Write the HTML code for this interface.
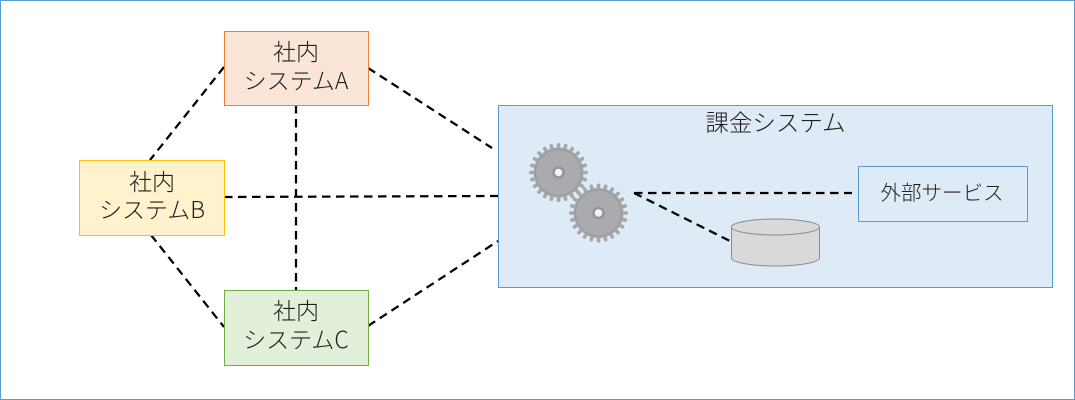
<!DOCTYPE html>
<html>
<head>
<meta charset="utf-8">
<style>
html,body{margin:0;padding:0;background:#fff;width:1075px;height:400px;overflow:hidden}
svg{display:block}
text{font-family:"Noto Sans CJK JP","Liberation Sans",sans-serif;font-weight:300;fill:#1f1f1f;text-anchor:middle}
.d{stroke:#000;stroke-width:2.25;stroke-dasharray:8.5 5.5;fill:none}
.t line{stroke:#a5a7aa;stroke-width:3.6;stroke-linecap:round}
</style>
</head>
<body>
<svg width="1075" height="400" viewBox="0 0 1075 400" xmlns="http://www.w3.org/2000/svg">
<defs>
<g id="gear">
<g class="t">
<line y1="-27.7" y2="27.7"/>
<line y1="-27.7" y2="27.7" transform="rotate(15)"/>
<line y1="-27.7" y2="27.7" transform="rotate(30)"/>
<line y1="-27.7" y2="27.7" transform="rotate(45)"/>
<line y1="-27.7" y2="27.7" transform="rotate(60)"/>
<line y1="-27.7" y2="27.7" transform="rotate(75)"/>
<line y1="-27.7" y2="27.7" transform="rotate(90)"/>
<line y1="-27.7" y2="27.7" transform="rotate(105)"/>
<line y1="-27.7" y2="27.7" transform="rotate(120)"/>
<line y1="-27.7" y2="27.7" transform="rotate(135)"/>
<line y1="-27.7" y2="27.7" transform="rotate(150)"/>
<line y1="-27.7" y2="27.7" transform="rotate(165)"/>
</g>
<circle r="25" fill="#a5a7aa"/>
<circle r="23" fill="#a9abae" stroke="#96989b" stroke-width="1"/>
<circle r="5" fill="#f2f4f6" stroke="#93959a" stroke-width="2.5"/>
</g>
</defs>
<rect x="0.5" y="0.5" width="1074" height="399" fill="#fff" stroke="#5b9bd5"/>

<rect x="498.5" y="105.5" width="554" height="182" fill="#deeaf6" stroke="#5b9bd5"/>

<line class="d" x1="296" y1="105" x2="296" y2="290"/>
<line class="d" x1="224" y1="197" x2="498" y2="196"/>
<line class="d" x1="224" y1="67" x2="150" y2="160"/>
<line class="d" x1="151" y1="235" x2="224" y2="327"/>
<line class="d" x1="368" y1="68" x2="492" y2="148"/>
<line class="d" x1="368" y1="326" x2="498" y2="241"/>

<rect x="224.5" y="31.5" width="144" height="74" fill="#fbe5d6" stroke="#ed7d31"/>
<rect x="79.5" y="160.5" width="145" height="75" fill="#fff2cc" stroke="#ffc000"/>
<rect x="224.5" y="290.5" width="144" height="75" fill="#e2efd9" stroke="#70ad47"/>

<text x="296" y="60" font-size="23">社内</text>
<text x="296" y="89" font-size="23">システムA</text>
<text x="152" y="190" font-size="23">社内</text>
<text x="152" y="218" font-size="23">システムB</text>
<text x="296" y="319" font-size="23">社内</text>
<text x="296" y="348" font-size="23">システムC</text>
<text x="775.5" y="131" font-size="23.5">課金システム</text>

<use href="#gear" x="558.5" y="172.5"/>
<use href="#gear" x="598.5" y="213"/>

<line class="d" x1="634" y1="193" x2="852" y2="193"/>
<line class="d" x1="634" y1="193" x2="730" y2="241"/>

<path d="M731.5 227 V258 C731.5 262 750 266 775.5 266 C801 266 819.5 262 819.5 258 V227 Z" fill="#d9d9d9" stroke="#8c8c8c"/>
<ellipse cx="775.5" cy="227" rx="44" ry="8" fill="#d9d9d9" stroke="#8c8c8c"/>

<rect x="858.5" y="166.5" width="169" height="55" fill="#deeaf6" stroke="#5b9bd5"/>
<text x="942" y="200" font-size="20.5">外部サービス</text>
</svg>
</body>
</html>
